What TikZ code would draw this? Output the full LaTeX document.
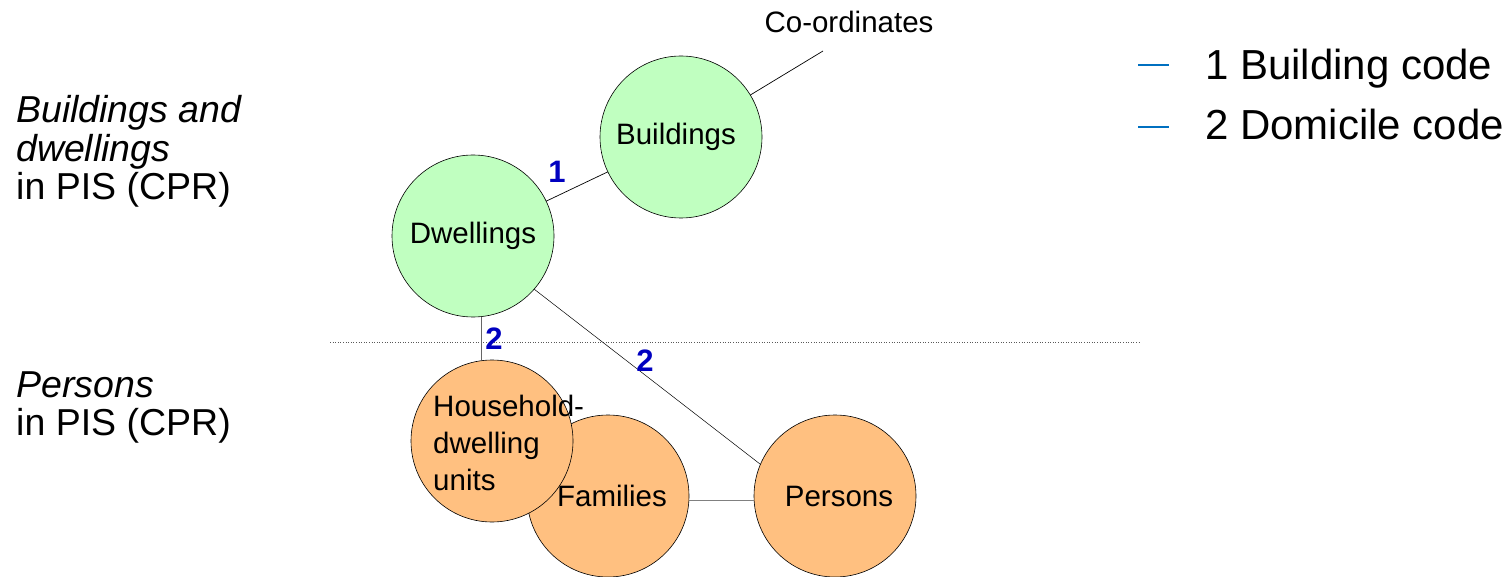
\documentclass[tikz,border=0pt]{standalone}
\usepackage{fontspec}
\setmainfont{Liberation Sans}
\definecolor{bubgreen}{RGB}{192,255,192}
\definecolor{bubor}{RGB}{255,192,128}
\definecolor{numblue}{RGB}{0,0,192}
\definecolor{legblue}{RGB}{0,112,192}
\tikzset{
  bubble/.style={circle, draw=black, line width=0.6pt, minimum size=162pt, inner sep=0pt, outer sep=0pt,
    font=\fontsize{29.5}{33}\selectfont},
  gbub/.style={bubble, fill=bubgreen},
  obub/.style={bubble, fill=bubor},
  link/.style={draw=black, line width=0.7pt},
  numlab/.style={text=numblue, font=\fontsize{31}{34}\selectfont\bfseries, inner sep=0pt},
  sidetext/.style={anchor=base west, inner sep=0pt, font=\fontsize{37.5}{41}\selectfont},
  legtext/.style={anchor=base west, inner sep=0pt, font=\fontsize{42}{47}\selectfont},
  smalltext/.style={inner sep=0pt, font=\fontsize{29.5}{33}\selectfont},
}
\begin{document}
\begin{tikzpicture}[x=1pt,y=-1pt]
\useasboundingbox (0,0) rectangle (1512,577);
% separator
\coordinate (sepL) at (330,342);
\coordinate (sepR) at (1140,342);
\draw[gray!70!black, line width=0.6pt, dotted] (sepL) -- (sepR);
% bubbles
\node[gbub] (bu) at (681,137) {\raisebox{1pt}{Buildings}\hspace*{10pt}};
\node[gbub] (dw) at (473,236) {\raisebox{5pt}{Dwellings}};
\node[obub] (fa) at (608,496) {\hspace*{8pt}Families};
\node[obub] (hh) at (492,441) {};
\node[obub] (pe) at (835,496) {\hspace*{8pt}Persons};
% household text
\node[smalltext, anchor=base west] (hh1) at (433,416) {Household-};
\node[smalltext, anchor=base west] (hh2) at (433,453) {dwelling};
\node[smalltext, anchor=base west] (hh3) at (433,490) {units};
% coordinates
\node[smalltext] (co) at (849,22) {Co-ordinates};
\coordinate (coend) at (823,51);
% links
\draw[link] (bu) -- (coend);
\draw[link] (dw) -- (bu);
\draw[link, line width=0.5pt] (dw.-41) -- (pe.157);
\draw[link, draw=gray!80!black] (dw.-84) -- (dw.-84 |- hh.north);
\draw[link, draw=gray] (fa.-3) -- (pe.183);
% number labels
\node[numlab] (n1) at (557,172) {1};
\node[numlab] (n2a) at (494,339) {2};
\node[numlab] (n2b) at (645,361) {2};
% side texts
\node[sidetext] (s1) at (16,123) {\itshape Buildings and};
\node[sidetext] (s2) at (16,162) {\itshape dwellings};
\node[sidetext] (s3) at (16,200) {in PIS (CPR)};
\node[sidetext] (s4) at (16,397) {\itshape Persons};
\node[sidetext] (s5) at (16,435) {in PIS (CPR)};
% legend
\coordinate (d1a) at (1138,65); \coordinate (d1b) at (1169,65);
\coordinate (d2a) at (1138,127); \coordinate (d2b) at (1169,127);
\draw[legblue, line width=2.6pt] (d1a) -- (d1b);
\draw[legblue, line width=2.6pt] (d2a) -- (d2b);
\node[legtext] (l1) at (1205,80) {1 Building code};
\node[legtext] (l2) at (1205,140) {2 Domicile code};
\end{tikzpicture}
\end{document}
